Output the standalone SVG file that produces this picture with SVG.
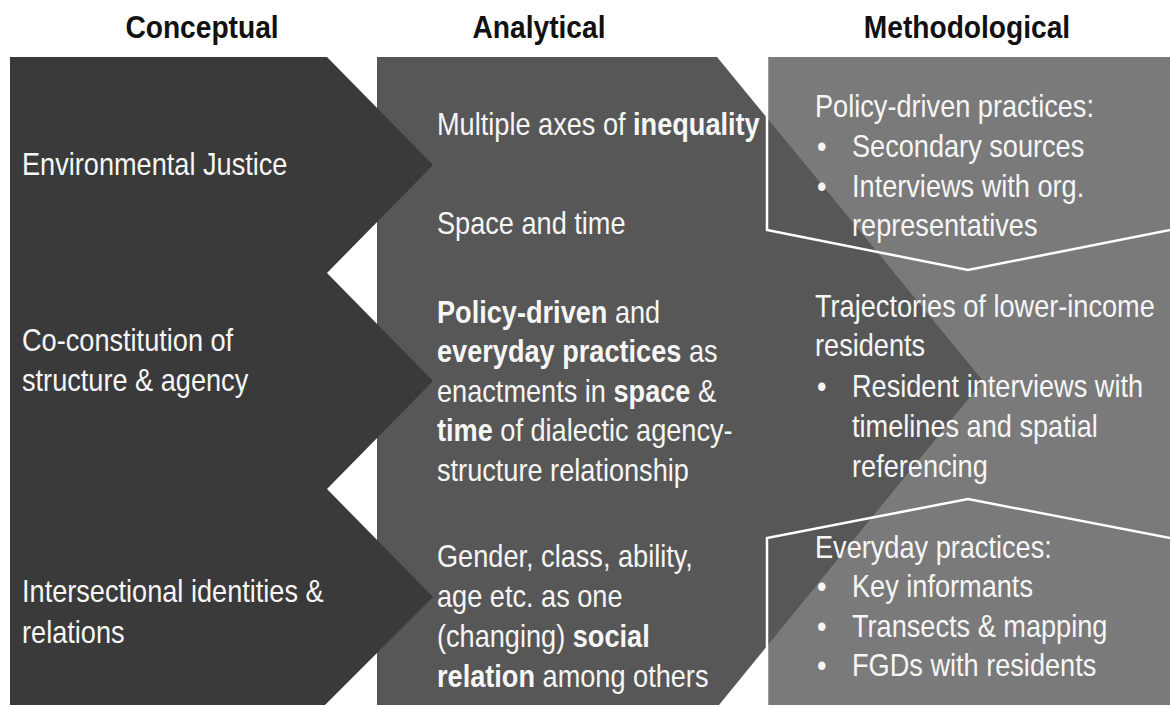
<svg xmlns="http://www.w3.org/2000/svg" width="1170" height="705" viewBox="0 0 1170 705">
  <style>
    .hd { font-family: "Liberation Sans", Arial, sans-serif; font-weight: bold; font-size: 32px; fill: #111; text-anchor: middle; }
    .t { font-family: "Liberation Sans", Arial, sans-serif; font-size: 30.5px; fill: #f6f6f6; }
    .b { font-weight: bold; }
    .edge { fill: none; stroke: #ffffff; stroke-width: 2.5; stroke-linejoin: miter; }
  </style>
  <rect width="1170" height="705" fill="#ffffff"/>

  <!-- column headings -->
  <g id="headings">
    <text class="hd" transform="translate(202,38) scale(0.88,1)">Conceptual</text>
    <text class="hd" transform="translate(539,38) scale(0.88,1)">Analytical</text>
    <text class="hd" transform="translate(967,38) scale(0.88,1)">Methodological</text>
  </g>

  <!-- methodological column background -->
  <g id="methodological-panel">
    <rect x="767" y="57" width="403" height="648" fill="#7a7a7a"/>
  </g>

  <!-- analytical column: one large chevron -->
  <g id="analytical">
    <polygon points="377,57 717,57 983,381 719,705 377,705" fill="#575757"/>
    <text class="t" transform="translate(437,135) scale(0.89,1)">Multiple axes of <tspan class="b">inequality</tspan></text>
    <text class="t" transform="translate(437,234) scale(0.89,1)">Space and time</text>
    <text class="t" transform="translate(437,323) scale(0.89,1)">
      <tspan x="0" dy="0"><tspan class="b">Policy-driven</tspan> and</tspan>
      <tspan x="0" dy="39.5"><tspan class="b">everyday practices</tspan> as</tspan>
      <tspan x="0" dy="39.5">enactments in <tspan class="b">space</tspan> &amp;</tspan>
      <tspan x="0" dy="39.5"><tspan class="b">time</tspan> of dialectic agency-</tspan>
      <tspan x="0" dy="39.5">structure relationship</tspan>
    </text>
    <text class="t" transform="translate(437,567) scale(0.89,1)">
      <tspan x="0" dy="0">Gender, class, ability,</tspan>
      <tspan x="0" dy="40">age etc. as one</tspan>
      <tspan x="0" dy="40">(changing) <tspan class="b">social</tspan></tspan>
      <tspan x="0" dy="40"><tspan class="b">relation</tspan> among others</tspan>
    </text>
  </g>

  <!-- conceptual column: three stacked chevrons -->
  <g id="conceptual">
    <polygon points="10,57 327,57 433,165 327,273 433,381 327,489 433,597 325,705 10,705" fill="#3a3a3a"/>
    <text class="t" transform="translate(22,175) scale(0.89,1)">Environmental Justice</text>
    <text class="t" transform="translate(22,351) scale(0.89,1)">
      <tspan x="0" dy="0">Co-constitution of</tspan>
      <tspan x="0" dy="40">structure &amp; agency</tspan>
    </text>
    <text class="t" transform="translate(22,602) scale(0.89,1)">
      <tspan x="0" dy="0">Intersectional identities &amp;</tspan>
      <tspan x="0" dy="41">relations</tspan>
    </text>
  </g>

  <!-- methodological: policy-driven practices box -->
  <g id="policy-practices">
    <polyline class="edge" points="767,57 767,230 968,270 1175,229"/>
    <text class="t" transform="translate(815,117) scale(0.89,1)">Policy-driven practices:</text>
    <text class="t" transform="translate(817,157) scale(0.89,1)">•</text>
    <text class="t" transform="translate(852,157) scale(0.89,1)">Secondary sources</text>
    <text class="t" transform="translate(817,197) scale(0.89,1)">•</text>
    <text class="t" transform="translate(852,197) scale(0.89,1)">
      <tspan x="0" dy="0">Interviews with org.</tspan>
      <tspan x="0" dy="39.5">representatives</tspan>
    </text>
  </g>

  <!-- methodological: resident trajectories -->
  <g id="resident-trajectories">
    <text class="t" transform="translate(815,317) scale(0.89,1)">
      <tspan x="0" dy="0">Trajectories of lower-income</tspan>
      <tspan x="0" dy="39.5">residents</tspan>
    </text>
    <text class="t" transform="translate(817,397) scale(0.89,1)">•</text>
    <text class="t" transform="translate(852,397) scale(0.89,1)">
      <tspan x="0" dy="0">Resident interviews with</tspan>
      <tspan x="0" dy="40">timelines and spatial</tspan>
      <tspan x="0" dy="40">referencing</tspan>
    </text>
  </g>

  <!-- methodological: everyday practices box -->
  <g id="everyday-practices">
    <polyline class="edge" points="767,705 767,538 968,499 1175,539"/>
    <text class="t" transform="translate(815,558) scale(0.89,1)">Everyday practices:</text>
    <text class="t" transform="translate(817,597) scale(0.89,1)">•</text>
    <text class="t" transform="translate(852,597) scale(0.89,1)">Key informants</text>
    <text class="t" transform="translate(817,637) scale(0.89,1)">•</text>
    <text class="t" transform="translate(852,637) scale(0.89,1)">Transects &amp; mapping</text>
    <text class="t" transform="translate(817,676) scale(0.89,1)">•</text>
    <text class="t" transform="translate(852,676) scale(0.89,1)">FGDs with residents</text>
  </g>
</svg>
